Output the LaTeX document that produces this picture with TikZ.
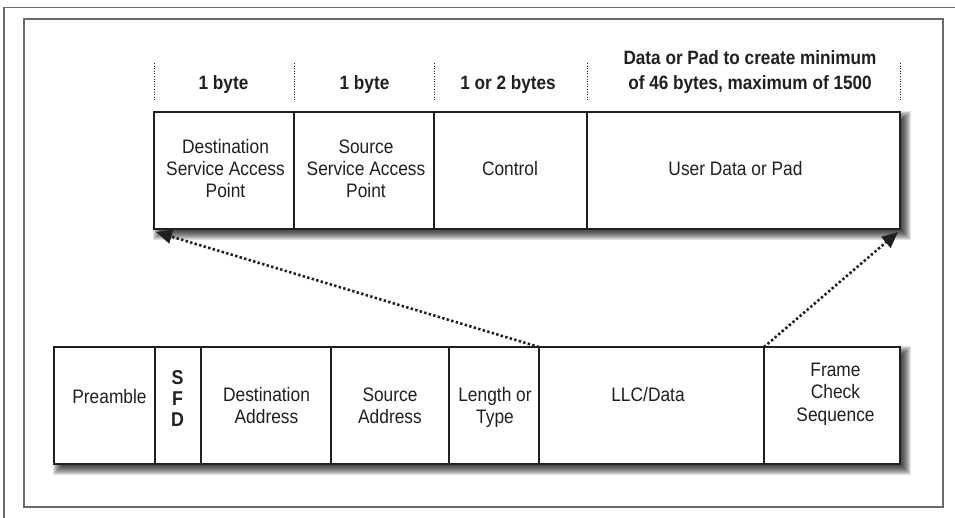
\documentclass[tikz,border=0pt]{standalone}
\usepackage{fontspec}
\setmainfont{Liberation Sans}[FakeStretch=0.89]
\usetikzlibrary{arrows.meta}
\definecolor{ink}{HTML}{231F20}
\definecolor{framegray}{HTML}{6A6A6A}
\begin{document}
\begin{tikzpicture}[x=1pt,y=-1pt,
  field/.style={draw=ink, line width=2.2pt, fill=white, rectangle, inner sep=0pt, outer sep=0pt, minimum height=117pt},
  lbl/.style={font=\fontsize{19.5}{22.3}\selectfont, text=ink, align=center, inner sep=0pt, anchor=base},
  hdr/.style={font=\fontsize{19.3}{25}\selectfont\bfseries, text=ink, align=center, inner sep=0pt, anchor=base},
  sfdtxt/.style={font=\fontsize{20}{20.8}\selectfont\bfseries, text=ink, align=center, inner sep=0pt, anchor=base},
  sepline/.style={draw=ink, line width=1pt, dash pattern=on 1pt off 1.6pt},
  link/.style={draw=ink, line width=2.6pt, dash pattern=on 2.4pt off 2.3pt, -{Triangle[length=16pt,width=14pt]}},
  frameline/.style={draw=framegray, line width=1.6pt},
  shade/.style={fill=black, opacity=0.11},
]
\useasboundingbox (0,0) rectangle (955,518);
\fill[white] (0,0) rectangle (955,518);
% frames
\draw[frameline] (4,518) -- (4,7.5) -- (955,7.5);
\draw[frameline] (24,19) rectangle (943,507);
% shadows
\foreach \r in {-3,...,6} {
  \fill[shade] (154+5-\r,112+5-\r) rectangle (900+5+\r,229+5+\r);
  \fill[shade] (54+5-\r,347+5-\r) rectangle (900+5+\r,464+5+\r);
}
% top row
\node[field, minimum width=140pt] (dsap) at (224,170.5) {};
\node[field, minimum width=140pt] (ssap) at (364,170.5) {};
\node[field, minimum width=153pt] (ctrl) at (510.5,170.5) {};
\node[field, minimum width=313pt] (udata) at (743.5,170.5) {};
% bottom row
\node[field, minimum width=101pt] (pre) at (104.5,405.5) {};
\node[field, minimum width=46pt] (sfd) at (178,405.5) {};
\node[field, minimum width=130pt] (dst) at (266,405.5) {};
\node[field, minimum width=118pt] (src) at (390,405.5) {};
\node[field, minimum width=90pt] (len) at (494,405.5) {};
\node[field, minimum width=225pt] (llc) at (651.5,405.5) {};
\node[field, minimum width=136pt] (fcs) at (832,405.5) {};
% separators
\foreach \x in {154,294,434,587,900} {
  \draw[sepline] (\x,63) -- (\x,100);
}
% headers
\node[hdr] (h1) at (223.5,90) {1 byte};
\node[hdr] (h2) at (364.5,90) {1 byte};
\node[hdr] (h3) at (508,90) {1 or 2 bytes};
\node[hdr] (h4) at (750,90) {Data or Pad to create minimum\\of 46 bytes, maximum of 1500};
% top labels
\node[lbl] (t1) at (225.5,198) {Destination\\Service Access\\Point};
\node[lbl] (t2) at (366,198) {Source\\Service Access\\Point};
\node[lbl] (t3) at (510,176) {Control};
\node[lbl] (t4) at (735.5,176) {User Data or Pad};
% bottom labels
\node[lbl] (b1) at (109.5,403) {Preamble};
\node[sfdtxt] (b2) at (177.5,426) {S\\F\\D};
\node[lbl] (b3) at (266.5,423.3) {Destination\\Address};
\node[lbl] (b4) at (390,423.3) {Source\\Address};
\node[lbl] (b5) at (495,423.3) {Length or\\Type};
\node[lbl] (b6) at (648,401) {LLC/Data};
\node[lbl] (b7) at (835.5,421) {Frame\\Check\\Sequence};
% connectors
\coordinate (tipA) at ([shift={(2,3)}]dsap.south west);
\coordinate (tipB) at ([shift={(-2,3)}]udata.south east);
\draw[link] (llc.north west) -- (tipA);
\draw[link] (fcs.north west) -- (tipB);
\end{tikzpicture}
\end{document}
